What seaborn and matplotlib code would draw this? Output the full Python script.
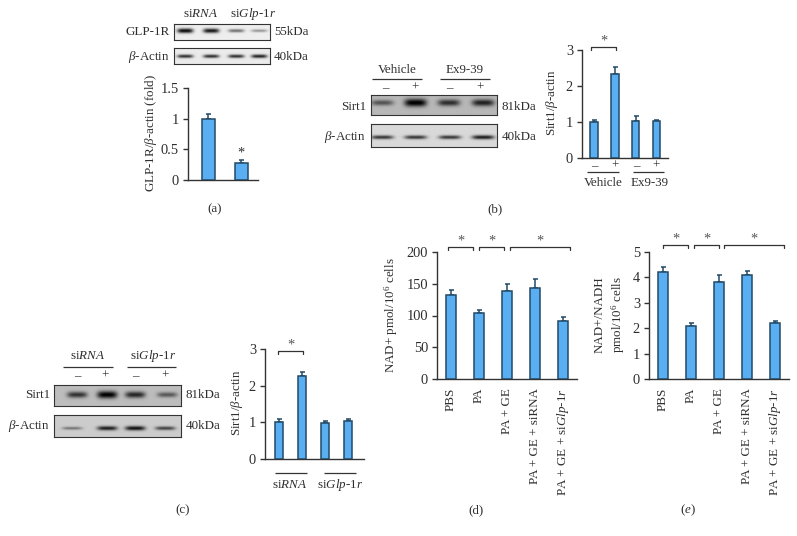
import numpy as np
import pandas as pd
import matplotlib
matplotlib.use("Agg")
import matplotlib.pyplot as plt
import seaborn as sns

sns.set_style("white")
plt.rcParams.update({
    "font.family": ["Liberation Serif", "DejaVu Serif"],
    "mathtext.fontset": "custom",
    "mathtext.rm": "Liberation Serif",
    "mathtext.it": "Liberation Serif:italic",
    "mathtext.bf": "Liberation Serif:bold",
    "mathtext.default": "regular",
})

TXT = "#2e2e2e"
FS = 9.4
BAR = "#5aaef2"
EDGE = "#234a66"
W, H = 797, 536

SIRNA = r"si$\mathit{RNA}$"
SIGLP = r"si$\mathit{Glp}$-1$\mathit{r}$"
BACT = r"$\mathit{\beta}$-Actin"

# Bar chart data
a_labels = ["siRNA", "siGlp-1r"]
a_values = [1.0, 0.28]
a_errors = [0.07, 0.05]

b_labels = ["Veh-", "Veh+", "Ex-", "Ex+"]
b_values = [1.0, 2.32, 1.02, 1.03]
b_errors = [0.05, 0.21, 0.14, 0.03]

c_labels = ["siRNA-", "siRNA+", "siGlp-", "siGlp+"]
c_values = [1.0, 2.26, 0.98, 1.04]
c_errors = [0.08, 0.11, 0.05, 0.05]

treatments = ["PBS", "PA", "PA + GE", "PA + GE + siRNA",
              r"PA + GE + si$\mathit{Glp}$-1$\mathit{r}$"]
d_values = [133, 104, 139, 143, 92]
d_errors = [7, 5, 11, 15, 6]
e_values = [4.2, 2.1, 3.8, 4.1, 2.2]
e_errors = [0.2, 0.1, 0.3, 0.15, 0.1]

# Western blot band strengths (0 = no band, 1 = darkest)
a_blot_glp = [0.9, 0.85, 0.5, 0.35]
a_blot_act = [0.75, 0.75, 0.75, 0.8]
b_blot_sirt = [0.4, 0.75, 0.55, 0.6]
b_blot_act = [0.65, 0.65, 0.65, 0.75]
c_blot_sirt = [0.55, 0.75, 0.6, 0.4]
c_blot_act = [0.35, 0.7, 0.75, 0.55]

fig = plt.figure(figsize=(W / 100, H / 100), dpi=100, facecolor="white")


def px_axes(x0, y0, x1, y1, **kw):
    return fig.add_axes([x0 / W, 1 - y1 / H, (x1 - x0) / W, (y1 - y0) / H], **kw)


def bars(x0, x1, ytop, ybot, first, step, bw, labels, values, errors, ymax, ticks, ticklabels, rotate=False):
    ax = px_axes(x0, ytop, x1, ybot)
    df = pd.DataFrame({"g": labels, "v": values})
    sns.barplot(data=df, x="g", y="v", ax=ax, color=BAR, saturation=1, width=bw / step,
                edgecolor=EDGE, linewidth=1.1, errorbar=None, zorder=3)
    ax.errorbar(range(len(values)), values, yerr=[[0] * len(values), errors], fmt="none",
                ecolor=EDGE, elinewidth=1.1, capsize=1.8, capthick=1.1, zorder=2)
    ax.set_xlim((x0 - first) / step, (x1 - first) / step)
    ax.set_ylim(0, ymax)
    ax.set_yticks(ticks, ticklabels)
    ax.set_xlabel("")
    ax.set_ylabel("")
    ax.patch.set_alpha(0)
    for s in ("top", "right"):
        ax.spines[s].set_visible(False)
    for s in ("left", "bottom"):
        ax.spines[s].set_color("#333333")
        ax.spines[s].set_linewidth(1.0)
    ax.tick_params(axis="y", left=True, length=3.5, width=1, color="#333333",
                   labelsize=FS + 1, labelcolor=TXT, pad=3)
    if rotate:
        ax.tick_params(axis="x", bottom=False, labelsize=FS, labelcolor=TXT, pad=3, labelrotation=90)
    else:
        ax.tick_params(axis="x", bottom=False, labelbottom=False)
    return ax


def blot(x0, y0, x1, y1, centers, strengths, bw, bh, bg=0.84, skew=0.0):
    ax = px_axes(x0, y0, x1, y1)
    xs = np.arange(x0, x1, 0.5)
    ys = np.arange(y0, y1, 0.5)
    X, Y = np.meshgrid(xs, ys)
    img = np.full(X.shape, float(bg))
    yc = (y0 + y1) / 2 + skew
    for c, s in zip(centers, strengths):
        img -= s * np.exp(-((X - c) / bw) ** 4 - ((Y - yc) / (bh * (0.45 + s))) ** 2)
    ax.imshow(np.clip(img, 0, 1), cmap="gray", vmin=0, vmax=1, aspect="auto", interpolation="bilinear")
    ax.set_xticks([])
    ax.set_yticks([])
    for s in ax.spines.values():
        s.set_visible(True)
        s.set_color("#333333")
        s.set_linewidth(0.8)
    return ax


# (a)
blot(174, 24, 270, 40, [185, 211, 236, 259], a_blot_glp, 8, 1.7, bg=0.93, skew=-1.5)
blot(174, 48, 270, 64, [185, 211, 236, 259], a_blot_act, 8, 1.4, bg=0.92)
bars(188, 258, 88, 180, 208, 33, 13, a_labels, a_values, a_errors, 1.5,
     [0, 0.5, 1, 1.5], ["0", "0.5", "1", "1.5"])

# (b)
blot(371, 95, 497, 115, [382, 415, 448, 482], b_blot_sirt, 11, 3.2, bg=0.72, skew=-2.5)
blot(371, 124, 497, 147, [382, 415, 449, 482], b_blot_act, 11, 1.7, bg=0.85, skew=1.5)
bars(582, 668, 50, 158, 594, 20.8, 7.5, b_labels, b_values, b_errors, 3,
     [0, 1, 2, 3], ["0", "1", "2", "3"])

# (c)
blot(54, 385, 181, 406, [77, 107, 135, 167], c_blot_sirt, 10, 3.0, bg=0.74, skew=-1)
blot(54, 415, 181, 437, [72, 107, 135, 165], c_blot_act, 10, 1.8, bg=0.8, skew=2)
bars(265, 364, 349, 459, 279, 23, 8, c_labels, c_values, c_errors, 3,
     [0, 1, 2, 3], ["0", "1", "2", "3"])

# (d)
bars(437, 577, 252, 379, 451, 28, 9.5, treatments, d_values, d_errors, 200,
     [0, 50, 100, 150, 200], ["0", "50", "100", "150", "200"], rotate=True)

# (e)
bars(649, 789, 252, 379, 663, 28, 9.5, treatments, e_values, e_errors, 5,
     [0, 1, 2, 3, 4, 5], ["0", "1", "2", "3", "4", "5"], rotate=True)

# Overlay in pixel coordinates for annotations
ov = fig.add_axes([0, 0, 1, 1], zorder=10)
ov.set_xlim(0, W)
ov.set_ylim(H, 0)
ov.axis("off")
ov.patch.set_alpha(0)


def T(x, y, s, ha="center", rot=0, fs=FS):
    ov.text(x, y, s, ha=ha, va="center", rotation=rot, fontsize=fs, color=TXT)


def L(x0, x1, y):
    ov.plot([x0, x1], [y, y], color="#333333", lw=0.9, solid_capstyle="butt")


def bracket(x0, x1, y, star_y=None):
    ov.plot([x0, x0, x1, x1], [y + 2.5, y, y, y + 2.5], color="#333333", lw=0.9)
    ov.text((x0 + x1) / 2, (y - 6) if star_y is None else star_y, "*", ha="center",
            va="center", fontsize=FS + 1, color="#555555")


# (a) annotations
T(201, 14, SIRNA)
T(253, 14, SIGLP)
T(170, 32, "GLP-1R", "right")
T(170, 57, BACT, "right")
T(274, 32, "55kDa", "left")
T(274, 57, "40kDa", "left")
T(151, 133, r"GLP-1R/$\mathit{\beta}$-actin (fold)", rot=90)
T(241, 153, "*", fs=FS + 1)
T(215, 209, "(a)")

# (b) annotations
T(397, 70, "Vehicle")
T(465, 70, "Ex9-39")
L(372, 422, 79)
L(440, 490, 79)
for x, s in zip([385, 415, 449, 480], ["–", "+", "–", "+"]):
    T(x, 88, s)
T(366, 107, "Sirt1", "right")
T(366, 137, BACT, "right")
T(502, 107, "81kDa", "left")
T(502, 137, "40kDa", "left")
T(552, 103, r"Sirt1/$\mathit{\beta}$-actin", rot=90)
for x, s in zip([594, 615, 636, 656], ["–", "+", "–", "+"]):
    T(x, 166, s)
L(587, 619, 172)
L(633, 664, 172)
T(603, 183, "Vehicle")
T(650, 183, "Ex9-39")
bracket(591, 616, 47)
T(495, 209, "(b)")

# (c) annotations
T(88, 356, SIRNA)
T(153, 356, SIGLP)
L(63, 113, 367)
L(127, 176, 367)
for x, s in zip([77, 105, 135, 165], ["–", "+", "–", "+"]):
    T(x, 376, s)
T(50, 395, "Sirt1", "right")
T(50, 426, BACT, "right")
T(186, 395, "81kDa", "left")
T(186, 426, "40kDa", "left")
T(237, 403, r"Sirt1/$\mathit{\beta}$-actin", rot=90)
L(275, 307, 473)
L(324, 356, 473)
T(290, 485, SIRNA)
T(340, 485, SIGLP)
bracket(278, 303, 351)
T(183, 510, "(c)")

# (d) annotations
T(391, 315, r"NAD+ pmol/10$^{6}$ cells", rot=90)
bracket(448, 473, 247)
bracket(479, 504, 247)
bracket(510, 570, 247)
T(476, 510, "(d)")

# (e) annotations
T(600, 315, "NAD+/NADH", rot=90)
T(618, 315, r"pmol/10$^{6}$ cells", rot=90)
bracket(663, 688, 245)
bracket(694, 719, 245)
bracket(724, 784, 245)
T(688, 510, r"($\mathit{e}$)")

fig.savefig("out.png", dpi=100)
